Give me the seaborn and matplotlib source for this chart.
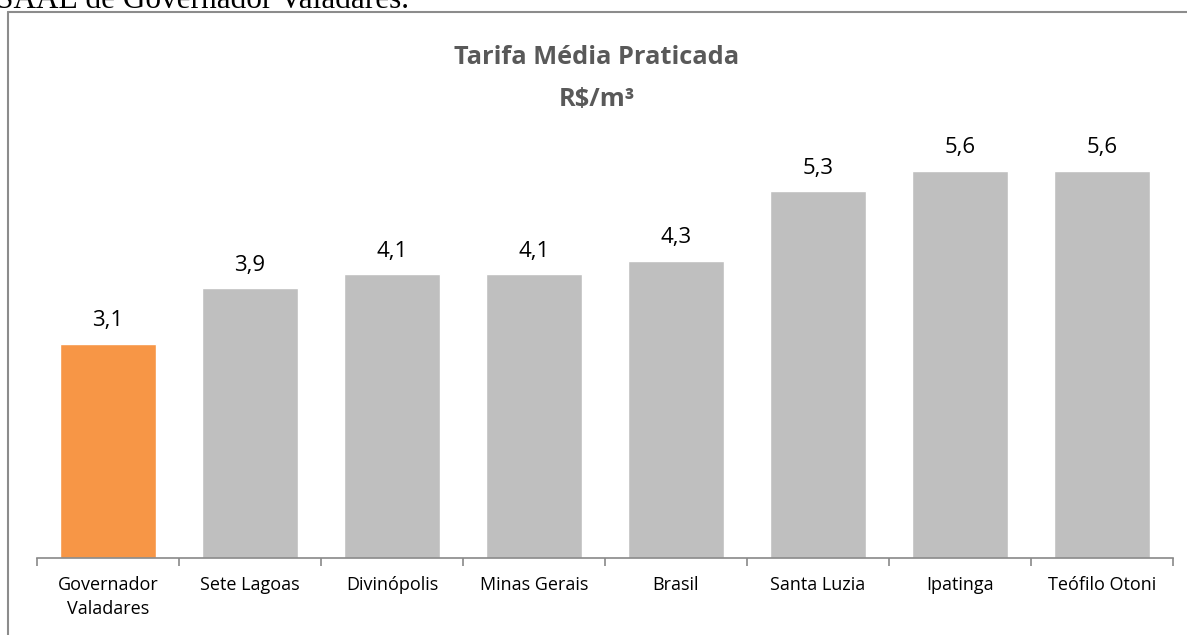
import matplotlib
matplotlib.use("Agg")
import matplotlib.pyplot as plt
import seaborn as sns
import pandas as pd
from matplotlib.lines import Line2D

categories = ["Governador\nValadares", "Sete Lagoas", "Divinópolis", "Minas Gerais",
              "Brasil", "Santa Luzia", "Ipatinga", "Teófilo Otoni"]
values = [3.1, 3.9, 4.1, 4.1, 4.3, 5.3, 5.6, 5.6]
highlight = ["yes", "no", "no", "no", "no", "no", "no", "no"]
title_line1 = "Tarifa Média Praticada"
title_line2 = "R$/m³"
top_text = "SAAE de Governador Valadares."

sns.set_theme(style="white")
plt.rcParams["font.family"] = ["Open Sans", "DejaVu Sans"]

df = pd.DataFrame({"cat": categories, "val": values, "hl": highlight})

fig = plt.figure(figsize=(11.87, 6.35), dpi=100)
ax = fig.add_axes([37 / 1187, 77 / 635, 1136 / 1187, 458 / 635])

sns.barplot(data=df, x="cat", y="val", hue="hl", order=categories,
            palette={"yes": "#F79646", "no": "#BFBFBF"}, width=0.67,
            dodge=False, legend=False, ax=ax, saturation=1)

for cont in ax.containers:
    labs = []
    for bar in cont:
        h = bar.get_height()
        labs.append(("%.1f" % h).replace(".", ",") if h == h and h > 0 else "")
    ax.bar_label(cont, labels=labs, padding=9, fontsize=16, color="#000000")

ax.set_xlim(-0.5, len(categories) - 0.5)
ax.set_ylim(0, 6.62)
ax.set_xlabel("")
ax.set_ylabel("")
ax.set_yticks([])
for s in ["top", "right", "left"]:
    ax.spines[s].set_visible(False)
ax.spines["bottom"].set_color("#898989")
ax.spines["bottom"].set_linewidth(1.2)
ax.set_xticks(range(len(categories)))
ax.set_xticklabels(categories, fontsize=13, color="#000000", linespacing=1.4)
ax.set_xticks([i - 0.5 for i in range(len(categories) + 1)], minor=True)
ax.tick_params(axis="x", which="major", length=0, pad=13)
ax.tick_params(axis="x", which="minor", length=6, width=1.2, color="#898989",
               direction="out", bottom=True)

fig.text(597 / 1187, 1 - 58 / 635, title_line1, ha="center", va="center",
         fontsize=18.3, fontweight="bold", color="#595959")
fig.text(597 / 1187, 1 - 99 / 635, title_line2, ha="center", va="center",
         fontsize=18.3, fontweight="bold", color="#595959")

# border of the embedding frame
fig.add_artist(Line2D([8 / 1187, 1.0], [1 - 12 / 635, 1 - 12 / 635],
                      color="#8c8c8c", lw=1.5, transform=fig.transFigure))
fig.add_artist(Line2D([8 / 1187, 8 / 1187], [0.0, 1 - 12 / 635],
                      color="#8c8c8c", lw=1.5, transform=fig.transFigure))

# cropped caption at the top of the page
fig.text(-4 / 1187, 1 - 8 / 635, top_text, ha="left", va="baseline",
         fontsize=22.5, family="Liberation Serif", color="#000000")

fig.savefig("out.png", dpi=100)
